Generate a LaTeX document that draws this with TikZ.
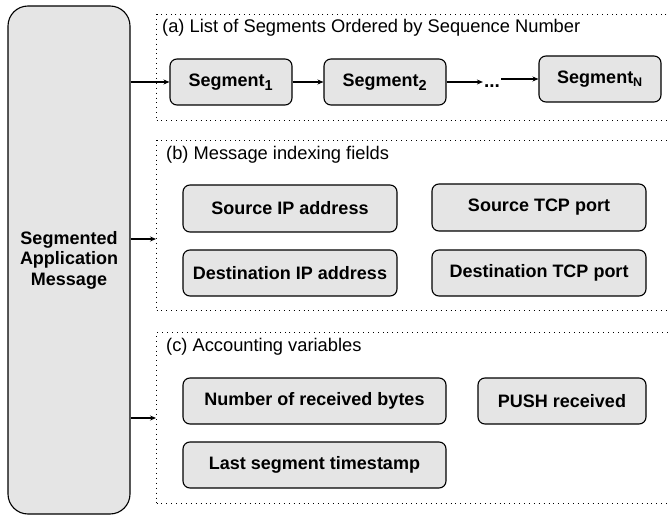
\documentclass[tikz,border=0pt]{standalone}
\usepackage{fontspec}
\setmainfont{Liberation Sans}
\usetikzlibrary{arrows.meta}
\begin{document}
\begin{tikzpicture}[x=1pt,y=-1pt,
  box/.style={draw, line width=1.1pt, fill=black!10, rounded corners=7pt, font=\fontsize{18}{20.5}\selectfont\bfseries, inner sep=0pt},
  group/.style={draw, line width=1pt, dash pattern=on 0.9pt off 4pt},
  lbl/.style={anchor=west, font=\fontsize{18.3}{21}\selectfont, inner sep=0pt},
  arr/.style={line width=1.1pt, -{Stealth[length=6pt,width=5pt]}}]
\clip (0,0) rectangle (670,516);
% big box
\node[box, rounded corners=20pt, minimum width=122pt, minimum height=508pt, align=center] (msg) at (69,260) {Segmented\\Application\\Message};
% group boxes
\node[group, minimum width=540pt, minimum height=106pt, anchor=north west] (ga) at (156,14) {};
\node[group, minimum width=540pt, minimum height=170pt, anchor=north west] (gb) at (156,140) {};
\node[group, minimum width=540pt, minimum height=171pt, anchor=north west] (gc) at (156,332) {};
\node[lbl] (la) at (162,28) {(a) List of Segments Ordered by Sequence Number};
\node[lbl] (lb) at (166,155) {(b) Message indexing fields};
\node[lbl] (lc) at (166,347) {(c) Accounting variables};
% segments
\node[box, minimum width=122pt, minimum height=46pt] (s1) at (231,82) {Segment\textsubscript{\fontsize{14.5}{14}\selectfont 1}};
\node[box, minimum width=122pt, minimum height=46pt] (s2) at (385,82) {Segment\textsubscript{\fontsize{14.5}{14}\selectfont 2}};
\node[box, minimum width=122pt, minimum height=46pt] (sn) at (600,79) {Segment\textsubscript{\fontsize{12.5}{12}\selectfont N}};
\node[font=\fontsize{19}{21}\selectfont\bfseries, inner sep=1pt] (dots) at (492,86) {...};
% fields
\node[box, minimum width=214pt, minimum height=47pt] (sip) at (290,208.5) {Source IP address};
\node[box, minimum width=214pt, minimum height=46pt] (dip) at (290,273) {Destination IP address};
\node[box, minimum width=214pt, minimum height=47pt] (stcp) at (539,207.5) {Source TCP port};
\node[box, minimum width=214pt, minimum height=46pt] (dtcp) at (539,273) {Destination TCP port};
% accounting
\node[box, minimum width=263pt, minimum height=46pt] (nrb) at (314.5,401) {Number of received bytes};
\node[box, minimum width=168pt, minimum height=46pt] (push) at (562,401) {PUSH received};
\node[box, minimum width=263pt, minimum height=46pt] (lst) at (314.5,465) {Last segment timestamp};
% arrows
\draw[arr] (msg.east |- s1.west) -- (s1.west);
\draw[arr] (s1.east) -- (s2.west);
\draw[arr] (s2.east) -- (s2.east -| dots.west);
\draw[arr] (dots.east |- sn.west) -- (sn.west);
\draw[arr] (msg.east |- 0,239) -- (gb.west |- 0,239);
\draw[arr] (msg.east |- 0,418) -- (gc.west |- 0,418);
\end{tikzpicture}
\end{document}
